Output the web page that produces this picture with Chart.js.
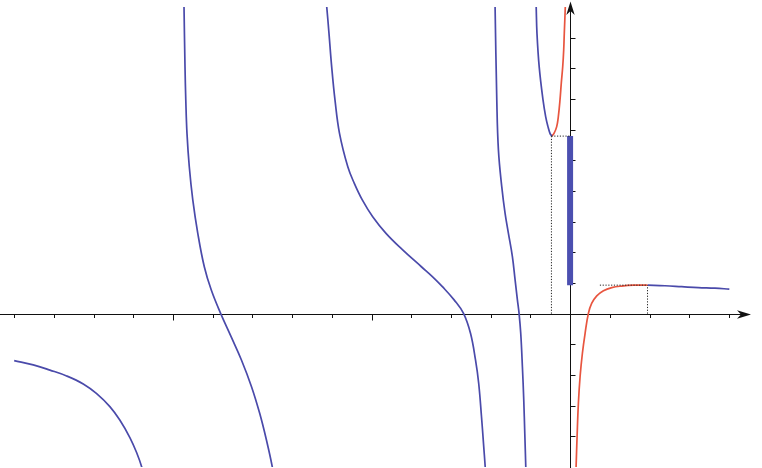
<!DOCTYPE html>
<html>
<head>
<meta charset="utf-8">
<script src="https://cdn.jsdelivr.net/npm/chart.js@4.4.1/dist/chart.umd.min.js"></script>
<style>
  html, body { margin: 0; padding: 0; background: #ffffff; }
  #wrap { width: 762px; height: 468px; }
</style>
</head>
<body>
<div id="wrap"><canvas id="c" width="762" height="468"></canvas></div>
<script>
// ---- data ----
const xTicks = [-14, -13, -12, -11, -10, -9, -8, -7, -6, -5, -4, -3, -2, -1, 1, 2, 3, 4];
const xLongTicks = [-10, -5];
const yTicks = [-4, -3, -2, -1, 1, 2, 3, 4, 5, 6, 7, 8, 9];

const blueAX = [-14.0, -13.52, -13.10, -12.68, -12.26, -11.93, -11.59, -11.34, -11.083, -10.91, -10.79, -10.72];
const blueAY = [-1.53, -1.67, -1.84, -2.03, -2.29, -2.60, -3.03, -3.47, -4.048, -4.55, -4.99, -5.4];

const blueBX = [-9.728, -9.723, -9.698, -9.678, -9.648, -9.590, -9.502, -9.376, -9.212, -9.036, -8.801, -8.537, -8.277, -8.023, -7.817, -7.647, -7.501, -7.457];
const blueBY = [10.39, 10.01, 8.05, 6.97, 5.88, 4.79, 3.71, 2.62, 1.53, 0.77, 0.01, -0.75, -1.51, -2.38, -3.25, -4.12, -4.99, -5.42];

const blueCX = [-6.160, -6.129, -6.072, -6.004, -5.921, -5.807, -5.598, -5.434, -5.233, -4.971, -4.636, -4.216, -3.745, -3.468, -3.216, -2.921, -2.684, -2.508, -2.382, -2.302, -2.231, -2.181, -2.138, -2.118];
const blueCY = [10.39, 10.01, 9.14, 8.05, 6.97, 5.88, 4.79, 4.25, 3.71, 3.16, 2.62, 2.08, 1.53, 1.21, 0.88, 0.45, 0.01, -0.64, -1.51, -2.27, -3.36, -4.23, -4.99, -5.42];

const blueDX = [-1.894, -1.889, -1.846, -1.805, -1.721, -1.637, -1.553, -1.453, -1.385, -1.327, -1.285, -1.243, -1.201, -1.167, -1.141, -1.116, -1.108];
const blueDY = [10.39, 10.01, 6.97, 5.34, 4.14, 3.27, 2.62, 1.86, 1.10, 0.45, 0.01, -0.64, -1.73, -2.81, -3.90, -4.99, -5.42];

const blueEX = [-0.864, -0.854, -0.834, -0.778, -0.682, -0.614, -0.557, -0.506, -0.463];
const blueEY = [10.39, 10.01, 9.14, 8.05, 6.97, 6.42, 6.10, 5.88, 5.79];

const redAX = [-0.463, -0.405, -0.337, -0.297, -0.254, -0.222, -0.186, -0.161, -0.146, -0.121, -0.113];
const redAY = [5.79, 5.88, 6.10, 6.42, 6.97, 7.51, 8.05, 8.60, 9.14, 9.99, 10.39];

const redBX = [0.14, 0.151, 0.176, 0.209, 0.252, 0.310, 0.378, 0.461, 0.546, 0.672, 0.840, 1.05, 1.30, 1.60, 1.95];
const redBY = [-5.4, -4.99, -4.01, -2.92, -2.05, -1.29, -0.64, 0.01, 0.34, 0.58, 0.75, 0.85, 0.90, 0.93, 0.93];

const blueFX = [1.95, 2.39, 2.81, 3.23, 3.65, 4.01];
const blueFY = [0.93, 0.91, 0.88, 0.85, 0.83, 0.80];

const rangeBarX = [0, 0];
const rangeBarY = [0.925, 5.79];

const minX = -0.47, minY = 5.79;
const maxX = 1.95, maxY = 0.93, maxGuideStart = 0.75;

// ---- build ----
const pts = (xs, ys) => xs.map((x, i) => ({ x: x, y: ys[i] }));
const BLUE = '#4a4aaa';
const RED = '#e8553f';
const BAR = '#4b4fb0';

function curve(xs, ys, color) {
  return { data: pts(xs, ys), borderColor: color, borderWidth: 1.7,
           pointRadius: 0, tension: 0.4, fill: false };
}
function dotted(xs, ys) {
  return { data: pts(xs, ys), borderColor: '#222', borderWidth: 1, borderDash: [1.2, 1.6],
           pointRadius: 0, tension: 0, fill: false };
}

const axesPlugin = {
  id: 'axes',
  beforeDatasetsDraw(chart) {
    const ctx = chart.ctx;
    const xs = chart.scales.x, ys = chart.scales.y;
    const ox = Math.round(xs.getPixelForValue(0)) + 0.5;
    const oy = Math.round(ys.getPixelForValue(0)) + 0.5;
    ctx.save();
    ctx.strokeStyle = '#111';
    ctx.fillStyle = '#111';
    ctx.lineWidth = 1;
    ctx.beginPath();
    ctx.moveTo(0, oy); ctx.lineTo(744, oy);
    ctx.stroke();
    ctx.beginPath();
    ctx.moveTo(ox, 468); ctx.lineTo(ox, 8);
    ctx.stroke();
    xTicks.forEach(v => {
      const px = Math.round(xs.getPixelForValue(v)) + 0.5;
      const len = xLongTicks.includes(v) ? 6 : 3.5;
      ctx.beginPath(); ctx.moveTo(px, oy); ctx.lineTo(px, oy + len); ctx.stroke();
    });
    yTicks.forEach(v => {
      const py = Math.round(ys.getPixelForValue(v)) + 0.5;
      ctx.beginPath(); ctx.moveTo(ox, py); ctx.lineTo(ox + 5, py); ctx.stroke();
    });
    ctx.beginPath();
    ctx.moveTo(751, oy);
    ctx.lineTo(737, oy - 4.2);
    ctx.lineTo(741, oy);
    ctx.lineTo(737, oy + 4.2);
    ctx.closePath(); ctx.fill();
    ctx.beginPath();
    ctx.moveTo(ox, 1.5);
    ctx.lineTo(ox - 4.2, 15);
    ctx.lineTo(ox, 11);
    ctx.lineTo(ox + 4.2, 15);
    ctx.closePath(); ctx.fill();
    ctx.restore();
  }
};

new Chart(document.getElementById('c'), {
  type: 'line',
  data: {
    datasets: [
      dotted([minX, minX], [0, minY]),
      dotted([minX, 0], [minY, minY]),
      dotted([maxGuideStart, maxX], [maxY, maxY]),
      dotted([maxX, maxX], [0, maxY]),
      curve(blueAX, blueAY, BLUE),
      curve(blueBX, blueBY, BLUE),
      curve(blueCX, blueCY, BLUE),
      curve(blueDX, blueDY, BLUE),
      curve(blueEX, blueEY, BLUE),
      curve(redAX, redAY, RED),
      curve(redBX, redBY, RED),
      curve(blueFX, blueFY, BLUE),
      { data: pts(rangeBarX, rangeBarY), borderColor: BAR, borderWidth: 6, borderCapStyle: 'butt',
        pointRadius: 0, tension: 0 }
    ]
  },
  options: {
    responsive: false,
    animation: false,
    layout: { padding: { top: 7, bottom: 1, left: 0, right: 0 } },
    plugins: { legend: { display: false }, tooltip: { enabled: false } },
    scales: {
      x: { type: 'linear', min: -14.357, max: 4.833, display: false },
      y: { type: 'linear', min: -5, max: 10, display: false }
    }
  },
  plugins: [axesPlugin]
});
</script>
</body>
</html>
